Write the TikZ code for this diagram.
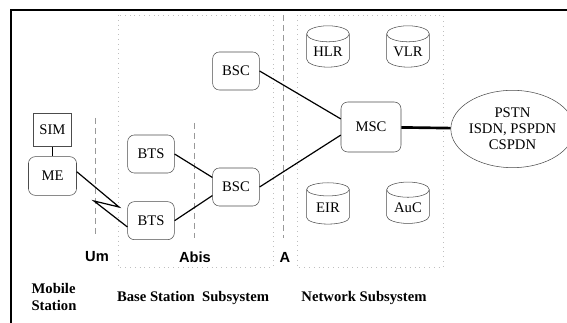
\documentclass[tikz,border=0pt]{standalone}
\usepackage{fontspec}
\setmainfont{Liberation Serif}
\setsansfont{Liberation Sans}
\usetikzlibrary{shapes.geometric}

\begin{document}
\begin{tikzpicture}[x=0.75pt, y=-0.75pt, node distance={60pt},
  font=\fontsize{11}{12}\selectfont,
  box/.style = {draw=black!70, rounded corners=5pt, minimum width=35pt, minimum height=28.5pt, inner sep=1pt},
  db/.style = {draw=black!70, cylinder, shape border rotate=90, aspect=0.5, minimum width=32pt, minimum height=31pt, inner sep=1pt},
  iface/.style = {draw=black!40, dashed, dash pattern=on 4.5pt off 3pt},
  area/.style = {draw=black!25, dash pattern=on 0.6pt off 3pt},
  link/.style = {draw, line width=0.9pt},
  tag/.style = {font=\sffamily\bfseries\fontsize{11}{12}\selectfont},
  group/.style = {font=\bfseries\fontsize{11}{13}\selectfont}]
\useasboundingbox (0,0) rectangle (567,323);

% frame
\draw[line width=2.2pt] (11,330) -- (11,10) -- (570,10);

% subsystem areas
\draw[area] (118,15) rectangle (273,267);
\draw[area] (297,15) rectangle (443,267);

% interfaces
\draw[iface] (95,118) -- (95,238);
\draw[iface] (194,123) -- (194,238);
\draw[iface] (283,15) -- (283,238);
\node[tag] (um) at (97,257) {Um};
\node[tag] (abis) at (195,257) {Abis};
\node[tag] (a) at (285,257) {A};

% mobile station
\node[draw=black!70, minimum width=28.5pt, minimum height=25pt, inner sep=1pt] (sim) at (52.5,130) {SIM};
\node[box, minimum width=36pt, minimum height=29pt] (me) at (52.5,176) {ME};

% base station subsystem
\node[box] (bts1) at (151,154) {BTS};
\node[box] (bts2) [below of=bts1, node distance=50pt] {BTS};
\node[box] (bsc1) at (236,71) {BSC};
\node[box] (bsc2) at (236,187) {BSC};

% network subsystem
\node[box, minimum width=45pt, minimum height=37.5pt] (msc) at (371,127) {MSC};
\node[db] (hlr) at (328,52) {HLR};
\node[db] (vlr) [right of=hlr] {VLR};
\node[db] (eir) at (328,208) {EIR};
\node[db] (auc) [right of=eir] {AuC};
\node[draw=black!70, ellipse, minimum width=81pt, minimum height=58pt, inner sep=0pt, align=center] (net) at (512.5,129) {PSTN\\ISDN, PSPDN\\CSPDN};

% radio link
\coordinate (z1) at (119,207);
\coordinate (z2) at (94,201);
\draw[link] (sim) -- (me);
\draw[link] (me.10) -- (z1) -- (z2) -- (bts2.195);
\draw[link] (bts1.east) -- (bsc2.158);
\draw[link] (bts2.east) -- (bsc2.200);
\draw[link] (bsc1.east) -- (msc.165);
\draw[link] (bsc2.east) -- (msc.195);
\draw[link, line width=2pt] (msc) -- (net);

% groups
\node[group, align=left] (ms) at (54,297) {Mobile\\Station};
\node[group] (bss) at (193,298) {Base Station\ \ Subsystem};
\node[group] (nss) at (364,298) {Network Subsystem};
\end{tikzpicture}
\end{document}
